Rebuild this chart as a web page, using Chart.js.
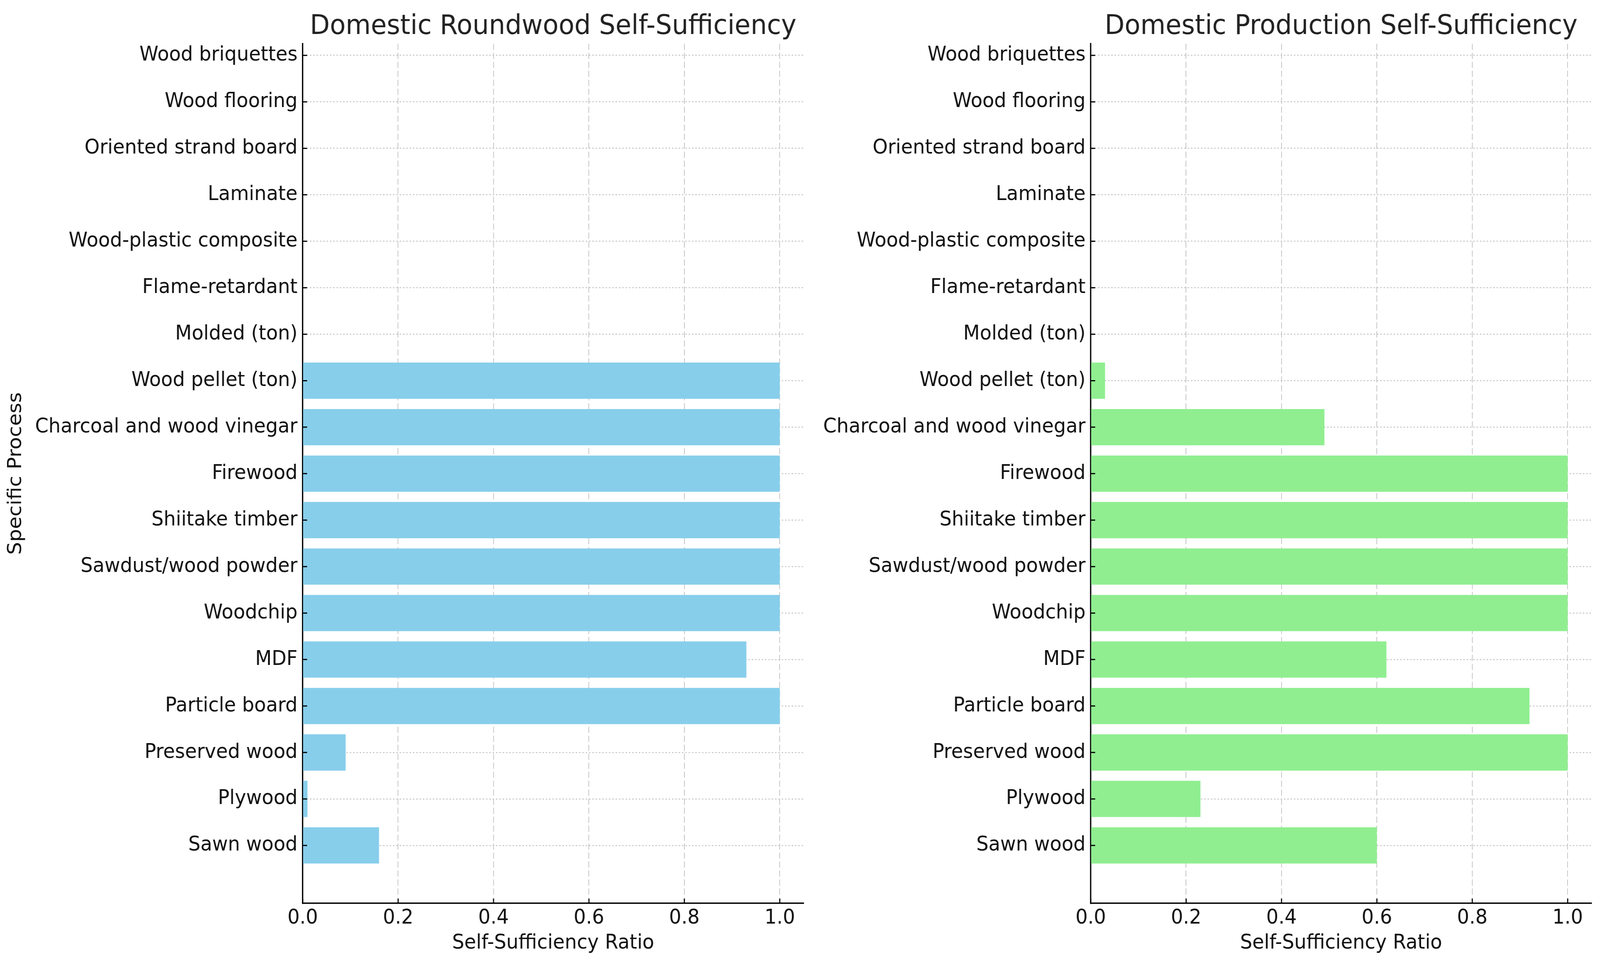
<!DOCTYPE html>
<html>
<head>
<meta charset="utf-8">
<script src="https://cdn.jsdelivr.net/npm/chart.js@4.4.1/dist/chart.umd.min.js"></script>
<style>
  html, body { margin: 0; padding: 0; background: #fff; overflow: hidden; }
  canvas { position: absolute; top: 0; }
</style>
</head>
<body>
<canvas id="roundwoodChart" width="2200" height="2470" style="left:0; width:50.75vw; height:100vh"></canvas>
<canvas id="productionChart" width="2135" height="2470" style="left:50.75vw; width:49.25vw; height:100vh"></canvas>
<script>
// categories listed bottom -> top (matplotlib barh order)
const processes = [
  'Sawn wood', 'Plywood', 'Preserved wood', 'Particle board', 'MDF', 'Woodchip',
  'Sawdust/wood powder', 'Shiitake timber', 'Firewood', 'Charcoal and wood vinegar',
  'Wood pellet (ton)', 'Molded (ton)', 'Flame-retardant', 'Wood-plastic composite',
  'Laminate', 'Oriented strand board', 'Wood flooring', 'Wood briquettes'
];
const roundwoodRatio  = [0.16, 0.01, 0.09, 1.0, 0.93, 1.0, 1.0, 1.0, 1.0, 1.0, 1.0, 0, 0, 0, 0, 0, 0, 0];
const productionRatio = [0.60, 0.23, 1.0, 0.92, 0.62, 1.0, 1.0, 1.0, 1.0, 0.49, 0.03, 0, 0, 0, 0, 0, 0, 0];
const xTicks = [0, 0.2, 0.4, 0.6, 0.8, 1.0];

Chart.defaults.font.family = 'DejaVu Sans';
Chart.defaults.color = '#111';

// title over the plot area + inward tick marks (matplotlib style)
const panelDecor = {
  id: 'panelDecor',
  afterDraw(chart, args, opts) {
    const {ctx, chartArea, scales} = chart;
    ctx.save();
    ctx.fillStyle = '#222';
    ctx.font = '70px "DejaVu Sans"';
    ctx.textAlign = 'center';
    ctx.textBaseline = 'alphabetic';
    ctx.fillText(opts.text, (chartArea.left + chartArea.right) / 2, 87);

    ctx.strokeStyle = '#000';
    ctx.lineWidth = 3;
    ctx.beginPath();
    scales.x.ticks.forEach(t => {
      const px = scales.x.getPixelForValue(t.value);
      ctx.moveTo(px, chartArea.bottom);
      ctx.lineTo(px, chartArea.bottom - 12);
    });
    scales.y.ticks.forEach(t => {
      const py = scales.y.getPixelForValue(t.value);
      ctx.moveTo(chartArea.left, py);
      ctx.lineTo(chartArea.left + 12, py);
    });
    ctx.stroke();
    ctx.restore();
  }
};

function makeChart(id, values, color, title, yTitle, yWidth, rightPad) {
  return new Chart(document.getElementById(id), {
    type: 'bar',
    data: {
      datasets: [{
        data: processes.map((p, i) => ({x: values[i], y: i})),
        backgroundColor: color,
        borderWidth: 0,
        barPercentage: 0.78,
        categoryPercentage: 1.0
      }]
    },
    options: {
      indexAxis: 'y',
      responsive: false,
      animation: false,
      devicePixelRatio: 1,
      layout: {padding: {top: 112, right: rightPad, bottom: 0, left: 0}},
      plugins: {
        legend: {display: false},
        tooltip: {enabled: false},
        panelDecor: {text: title}
      },
      scales: {
        x: {
          type: 'linear',
          min: 0,
          max: 1.05,
          z: 1,
          afterBuildTicks: s => { s.ticks = xTicks.map(v => ({value: v})); },
          afterFit: s => { s.height = 2470 - 2312; },
          ticks: {
            font: {size: 52},
            padding: 7,
            callback: v => v.toFixed(1)
          },
          grid: {color: '#c4c4c4', lineWidth: 2, drawTicks: false},
          border: {display: true, color: '#000', width: 3.5, dash: [16, 7]},
          title: {
            display: true,
            text: 'Self-Sufficiency Ratio',
            font: {size: 52},
            padding: {top: 24, bottom: 24}
          }
        },
        y: {
          type: 'linear',
          min: -1.245,
          max: 17.25,
          offset: false,
          z: 1,
          afterBuildTicks: s => { s.ticks = processes.map((p, i) => ({value: i})); },
          afterFit: s => { s.width = yWidth; },
          ticks: {
            font: {size: 52},
            padding: 14,
            autoSkip: false,
            callback: v => processes[v]
          },
          grid: {color: '#c4c4c4', lineWidth: 2.5, drawTicks: false, offset: false},
          border: {display: true, color: '#000', width: 3.5, dash: [4, 5]},
          title: {
            display: yTitle,
            text: 'Specific Process',
            font: {size: 52},
            padding: {top: 12, bottom: 12}
          }
        }
      }
    },
    plugins: [panelDecor]
  });
}

makeChart('roundwoodChart', roundwoodRatio, '#87CEEB', 'Domestic Roundwood Self-Sufficiency', true, 820, 23);
makeChart('productionChart', productionRatio, '#90EE90', 'Domestic Production Self-Sufficiency', false, 755, 23);
</script>
</body>
</html>
